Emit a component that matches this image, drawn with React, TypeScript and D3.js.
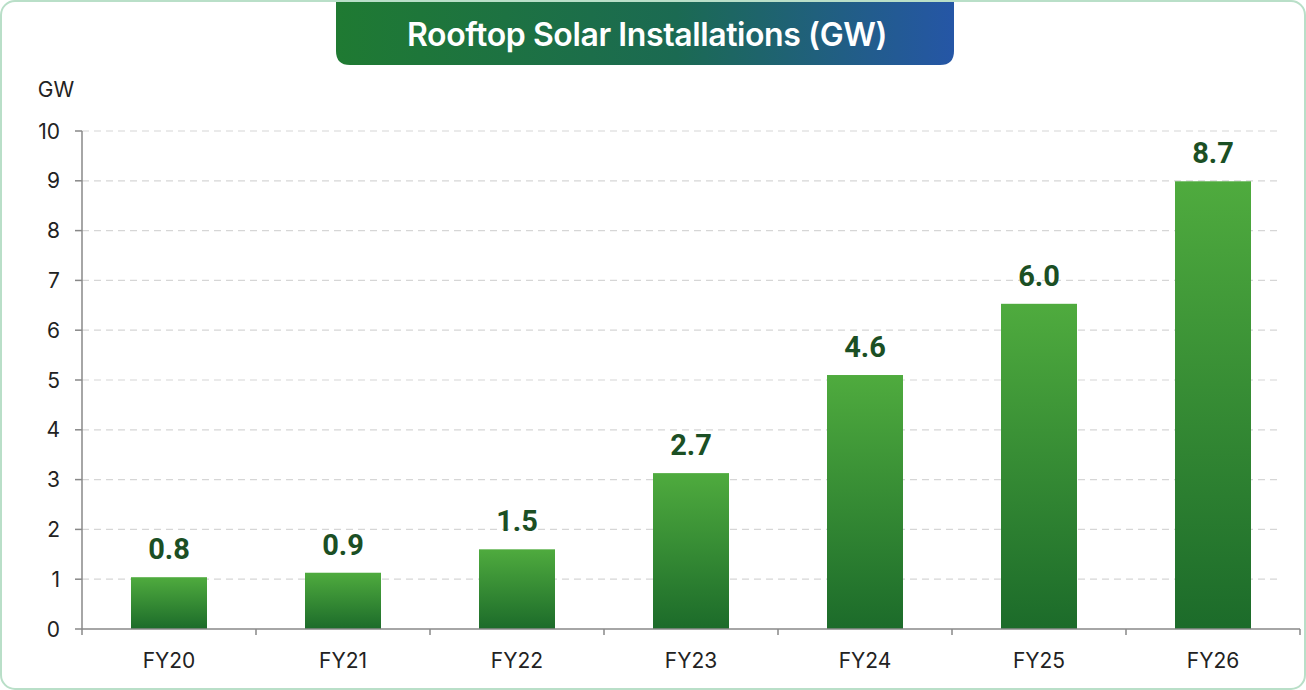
import React from "react";
import * as d3 from "d3";

const categories = ["FY20", "FY21", "FY22", "FY23", "FY24", "FY25", "FY26"];
const barHeights = [1.04, 1.13, 1.6, 3.13, 5.1, 6.53, 8.99];
const valueLabels = ["0.8", "0.9", "1.5", "2.7", "4.6", "6.0", "8.7"];
const yTicks = [0, 1, 2, 3, 4, 5, 6, 7, 8, 9, 10];
const title = "Rooftop Solar Installations (GW)";
const unitLabel = "GW";

const W = 1306;
const H = 690;

export default function App() {
  const x = d3.scaleBand<string>().domain(categories).range([82, 1300]).paddingInner(0).paddingOuter(0);
  const y = d3.scaleLinear().domain([0, 10]).range([629, 131]);
  const barW = 76;
  const bw = x.bandwidth();
  const boundaries = [...categories.map((c) => x(c) as number), 1300];

  return (
    <svg width={W} height={H} style={{ position: "absolute", left: 0, top: 0 }} fontFamily="Inter, 'Noto Sans', sans-serif">
      <defs>
        <linearGradient id="barGrad" x1="0" y1="0" x2="0" y2="1">
          <stop offset="0%" stopColor="#4fab3e" />
          <stop offset="100%" stopColor="#1c6b2a" />
        </linearGradient>
        <linearGradient id="titleGrad" x1="0" y1="0" x2="1" y2="0">
          <stop offset="0%" stopColor="#1f7a32" />
          <stop offset="55%" stopColor="#1b6a52" />
          <stop offset="100%" stopColor="#2556a6" />
        </linearGradient>
      </defs>
      <rect x={1} y={1} width={W - 2} height={H - 2} rx={14} fill="#ffffff" stroke="#b9dfc8" strokeWidth={2} />
      <path
        d={`M336,2 L954,2 L954,51 Q954,65 940,65 L350,65 Q336,65 336,51 Z`}
        fill="url(#titleGrad)"
      />
      <text x={647} y={46} textAnchor="middle" fill="#ffffff" fontSize={32} fontWeight={600} letterSpacing={-0.4}>
        {title}
      </text>
      <text x={56} y={97} textAnchor="middle" fill="#222" fontSize={21}>
        {unitLabel}
      </text>
      {yTicks.map((t) => (
        <g key={t}>
          {t > 0 && (
            <line x1={82} x2={1278} y1={y(t)} y2={y(t)} stroke="#d6d6d6" strokeWidth={1.2} strokeDasharray="7 5" />
          )}
          <line x1={75} x2={82} y1={y(t)} y2={y(t)} stroke="#888" strokeWidth={1.5} />
          <text x={60} y={y(t)} dy="0.36em" textAnchor="end" fill="#222" fontSize={21}>
            {t}
          </text>
        </g>
      ))}
      {categories.map((c, i) => {
        const cx = (x(c) as number) + bw / 2;
        const top = y(barHeights[i]);
        return (
          <g key={c}>
            <rect x={cx - barW / 2} y={top} width={barW} height={y(0) - top} fill="url(#barGrad)" />
            <text x={cx} y={top - 18} textAnchor="middle" fill="#1b4f24" fontSize={29} fontWeight={700} fontFamily="Roboto, sans-serif">
              {valueLabels[i]}
            </text>
            <text x={cx} y={668} textAnchor="middle" fill="#222" fontSize={21}>
              {c}
            </text>
          </g>
        );
      })}
      <line x1={82} x2={82} y1={y(10)} y2={y(0)} stroke="#888" strokeWidth={1.5} />
      <line x1={82} x2={1300} y1={y(0)} y2={y(0)} stroke="#888" strokeWidth={1.5} />
      {boundaries.map((b, i) => (
        <line key={i} x1={b} x2={b} y1={y(0)} y2={y(0) + 6} stroke="#888" strokeWidth={1.5} />
      ))}
    </svg>
  );
}
